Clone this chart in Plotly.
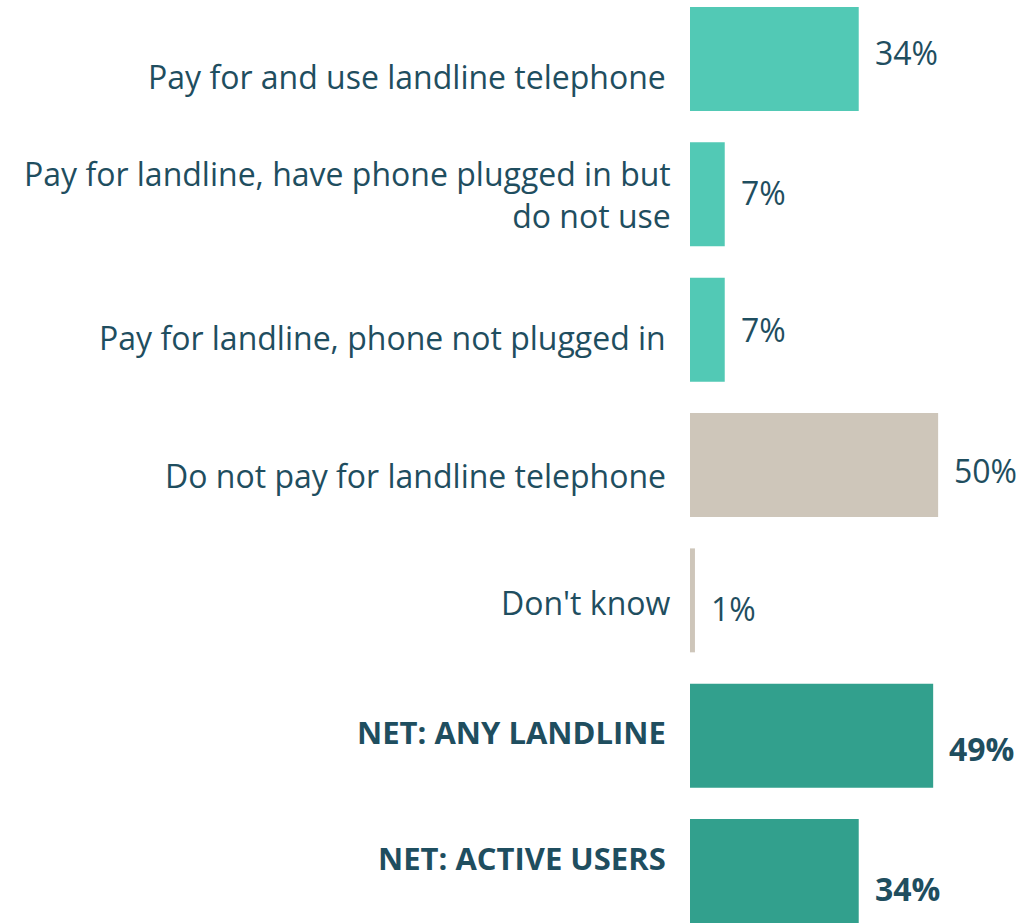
import plotly.graph_objects as go

# Survey responses: landline ownership and use
categories = [
    "Pay for and use landline telephone",
    "Pay for landline, have phone plugged in but<br>do not use",
    "Pay for landline, phone not plugged in",
    "Do not pay for landline telephone",
    "Don't know",
    "NET: ANY LANDLINE",
    "NET: ACTIVE USERS",
]
values = [34, 7, 7, 50, 1, 49, 34]
is_net = [False, False, False, False, False, True, True]

# Styling
LIGHT_TEAL = "#52C9B5"
DARK_TEAL = "#32A08D"
BEIGE = "#CEC6BA"
TEXT = "#1F4E5F"
FONT = "Open Sans"
bar_colors = [LIGHT_TEAL, LIGHT_TEAL, LIGHT_TEAL, BEIGE, BEIGE, DARK_TEAL, DARK_TEAL]

# vertical / horizontal nudges (px) for category and value labels
cat_shift = [-17, 0, -8, -10, -2, 4, 13]
val_shift = [7, 2, 0, -5, -8, -13, -17]
cat_xshift = [-22, -17, -22, -22, -17, -22, -22]

ypos = list(range(len(categories)))

fig = go.Figure(
    go.Bar(
        x=values,
        y=ypos,
        orientation="h",
        marker=dict(color=bar_colors, line=dict(width=0)),
        width=0.768,
        hoverinfo="skip",
    )
)

for i, (cat, v, net) in enumerate(zip(categories, values, is_net)):
    lab = f"<b>{cat}</b>" if net else cat
    fig.add_annotation(
        x=0, y=i, xref="x", yref="y", text=lab, showarrow=False,
        xanchor="right", yanchor="middle", align="right",
        xshift=cat_xshift[i], yshift=cat_shift[i],
        font=dict(family=FONT, size=31 if net else 32, color=TEXT),
    )
    vlab = f"<b>{v}%</b>" if net else f"{v}%"
    fig.add_annotation(
        x=v, y=i, xref="x", yref="y", text=vlab, showarrow=False,
        xanchor="left", yanchor="middle", xshift=14,
        yshift=val_shift[i],
        font=dict(family=FONT, size=32, color=TEXT),
    )

fig.update_layout(
    width=1022,
    height=923,
    margin=dict(l=690, r=0, t=0, b=0),
    paper_bgcolor="white",
    plot_bgcolor="white",
    showlegend=False,
    xaxis=dict(range=[0, 66.9], visible=False, fixedrange=True),
    yaxis=dict(range=[6.384, -0.436], visible=False, fixedrange=True),
)

fig.write_html("out.html")
